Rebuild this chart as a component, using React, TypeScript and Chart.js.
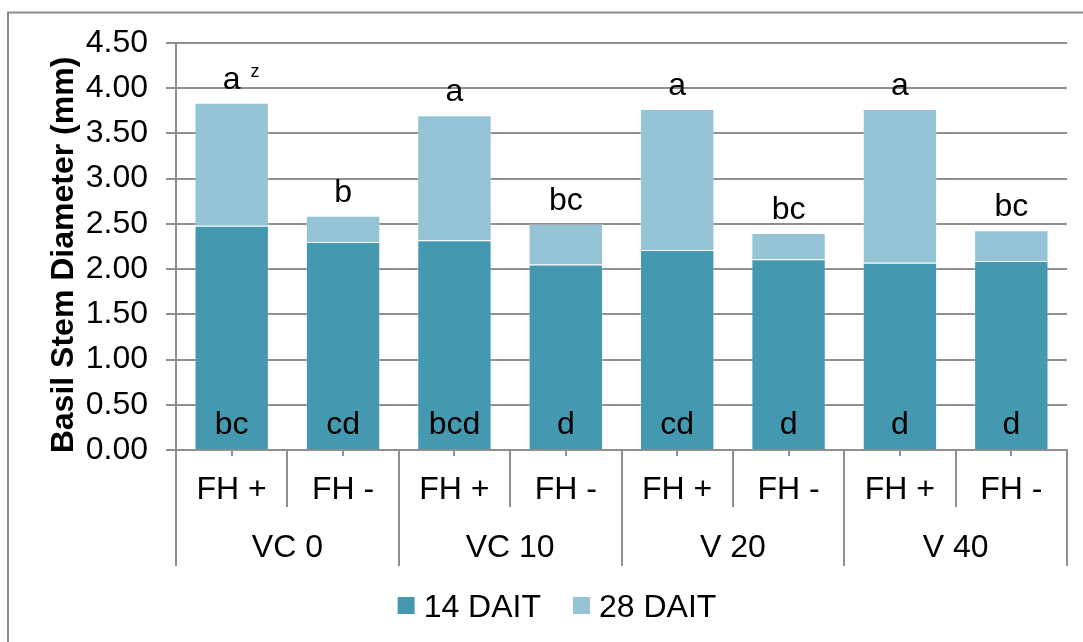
import React, { useEffect, useRef } from "react";
import { Chart, registerables } from "chart.js";

Chart.register(...registerables);

// ---- data ----
const categories = ["FH +", "FH -", "FH +", "FH -", "FH +", "FH -", "FH +", "FH -"];
const groups = ["VC 0", "VC 10", "V 20", "V 40"];
const seriesNames = ["14 DAIT", "28 DAIT"];
const dait14 = [2.48, 2.3, 2.32, 2.05, 2.21, 2.11, 2.07, 2.09];
const dait28Added = [1.36, 0.29, 1.38, 0.45, 1.56, 0.29, 1.7, 0.34];
const topLetters = ["a", "b", "a", "bc", "a", "bc", "a", "bc"];
const bottomLetters = ["bc", "cd", "bcd", "d", "cd", "d", "d", "d"];
const footnoteMark = "z";
const yTitle = "Basil Stem Diameter (mm)";
const yMin = 0;
const yMax = 4.5;
const yStep = 0.5;

// ---- styles ----
const FONT = "'Liberation Sans', Arial, sans-serif";
const DARK = "#4499B0";
const LIGHT = "#94C4D5";
const GRID = "#8f8f8f";
const FS = 32;

const overlay = {
  id: "overlay",
  beforeDraw(chart: any) {
    const ctx = chart.ctx;
    ctx.save();
    ctx.fillStyle = "#ffffff";
    ctx.fillRect(0, 0, chart.width, chart.height);
    ctx.strokeStyle = "#8a8a8a";
    ctx.lineWidth = 2;
    ctx.beginPath();
    ctx.moveTo(8, chart.height + 4);
    ctx.lineTo(8, 12.5);
    ctx.lineTo(chart.width + 4, 12.5);
    ctx.stroke();
    ctx.restore();
  },
  afterDraw(chart: any) {
    const ctx = chart.ctx;
    const x = chart.scales.x;
    const y = chart.scales.y;
    const zeroY = y.getPixelForValue(0);
    const catW = (x.right - x.left) / categories.length;
    const topMeta = chart.getDatasetMeta(1);
    ctx.save();
    ctx.fillStyle = "#000";
    ctx.textAlign = "center";
    ctx.textBaseline = "alphabetic";
    ctx.font = `${FS}px ${FONT}`;
    categories.forEach((c, i) => {
      const cx = x.getPixelForValue(i);
      ctx.fillText(bottomLetters[i], cx, zeroY - 16);
      const topY = topMeta.data[i].y;
      ctx.fillText(topLetters[i], cx, topY - 14);
      if (i === 0) {
        const w = ctx.measureText(topLetters[i]).width;
        ctx.save();
        ctx.font = `18px ${FONT}`;
        ctx.textAlign = "left";
        ctx.fillText(footnoteMark, cx + w / 2 + 10, topY - 26);
        ctx.restore();
      }
      ctx.fillText(c, cx, zeroY + 49);
    });
    groups.forEach((g, gi) => {
      const cx = x.left + (2 * gi + 1) * catW;
      ctx.fillText(g, cx, zeroY + 107);
    });
    // separators
    ctx.strokeStyle = GRID;
    ctx.lineWidth = 2;
    for (let k = 0; k <= categories.length; k++) {
      const xb = Math.round(x.left + k * catW);
      const len = k % 2 === 0 ? 116 : 57;
      ctx.beginPath();
      ctx.moveTo(xb, zeroY);
      ctx.lineTo(xb, zeroY + len);
      ctx.stroke();
    }
    // y title
    ctx.save();
    ctx.translate(73, 255);
    ctx.rotate(-Math.PI / 2);
    ctx.font = `bold ${FS}px ${FONT}`;
    ctx.textAlign = "center";
    ctx.fillText(yTitle, 0, 0);
    ctx.restore();
    // legend
    ctx.font = `${FS}px ${FONT}`;
    ctx.textAlign = "left";
    const box = 17;
    const gapText = 9;
    const gapItem = 32;
    const items = chart.data.datasets.map((d: any) => ({
      label: d.label,
      color: d.backgroundColor,
      w: ctx.measureText(d.label).width,
    }));
    let total = 0;
    items.forEach((it: any, i: number) => {
      total += box + gapText + it.w + (i > 0 ? gapItem : 0);
    });
    let lx = 557 - total / 2;
    items.forEach((it: any) => {
      ctx.fillStyle = it.color;
      ctx.fillRect(lx, 597, box, box);
      ctx.fillStyle = "#000";
      ctx.fillText(it.label, lx + box + gapText, 617);
      lx += box + gapText + it.w + gapItem;
    });
    ctx.restore();
  },
};

export default function App() {
  const ref = useRef<HTMLCanvasElement | null>(null);
  useEffect(() => {
    if (!ref.current) return;
    const chart = new Chart(ref.current, {
      type: "bar",
      data: {
        labels: categories,
        datasets: [
          {
            label: seriesNames[0],
            data: dait14,
            backgroundColor: DARK,
            borderColor: "rgba(255,255,255,0.25)",
            borderWidth: 1,
          },
          {
            label: seriesNames[1],
            data: dait28Added,
            backgroundColor: LIGHT,
            borderColor: "rgba(255,255,255,0.25)",
            borderWidth: 1,
          },
        ],
      },
      options: {
        responsive: false,
        animation: false,
        events: [],
        datasets: { bar: { barPercentage: 0.668, categoryPercentage: 1 } },
        layout: { padding: { left: 0, right: 16, top: 43, bottom: 0 } },
        plugins: { legend: { display: false }, tooltip: { enabled: false } },
        scales: {
          x: {
            stacked: true,
            grid: {
              display: true,
              drawOnChartArea: false,
              drawTicks: true,
              tickLength: 6,
              offset: false,
              color: GRID,
              lineWidth: 2,
            },
            border: { display: true, color: GRID, width: 2 },
            ticks: { display: false },
            afterFit: (s: any) => {
              s.height = 192;
            },
          },
          y: {
            stacked: true,
            min: yMin,
            max: yMax,
            ticks: {
              stepSize: yStep,
              color: "#000",
              font: { family: FONT, size: FS },
              padding: 18,
              callback: (v: any) => Number(v).toFixed(2),
            },
            grid: { color: GRID, lineWidth: 2, tickLength: 10, drawTicks: true },
            border: { display: true, color: GRID, width: 2 },
            afterFit: (s: any) => {
              s.width = 176;
            },
          },
        },
      },
      plugins: [overlay],
    });
    return () => chart.destroy();
  }, []);
  return (
    <div style={{ position: "absolute", left: 0, top: 0, width: 1083, height: 642, overflow: "hidden" }}>
      <canvas ref={ref} width={1083} height={642} style={{ display: "block", width: 1083, height: 642 }} />
    </div>
  );
}
